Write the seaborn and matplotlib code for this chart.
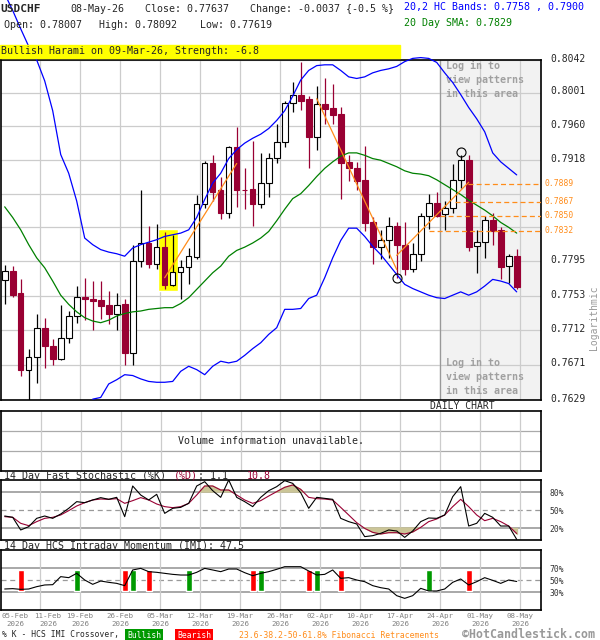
import numpy as np
import matplotlib
matplotlib.use("Agg")
import matplotlib.pyplot as plt
from matplotlib.ticker import NullLocator
from matplotlib.transforms import ScaledTranslation
import seaborn as sns

# ---- daily candles ----
opens = [0.7772, 0.7783, 0.7757, 0.7665, 0.7680, 0.7715, 0.7693, 0.7678, 0.7703, 0.7729,
         0.7752, 0.7750, 0.7748, 0.7742, 0.7732, 0.7743, 0.7685, 0.7795, 0.7817, 0.7791,
         0.7812, 0.7766, 0.7782, 0.7788, 0.7800, 0.7865, 0.7915, 0.7881, 0.7853, 0.7934,
         0.7882, 0.7883, 0.7865, 0.7890, 0.7921, 0.7940, 0.7989, 0.7999, 0.7993, 0.7947,
         0.7987, 0.7982, 0.7975, 0.7916, 0.7908, 0.7894, 0.7842, 0.7812, 0.7821, 0.7838,
         0.7815, 0.7786, 0.7804, 0.7850, 0.7866, 0.7852, 0.7859, 0.7894, 0.7918, 0.7813,
         0.7818, 0.7845, 0.7833, 0.7789, 0.78007]
highs = [0.7790, 0.7789, 0.7774, 0.7690, 0.7732, 0.7727, 0.7702, 0.7742, 0.7735, 0.7765,
         0.7775, 0.7771, 0.7771, 0.7759, 0.7757, 0.7750, 0.7815, 0.7881, 0.7838, 0.7840,
         0.7830, 0.7827, 0.7796, 0.7811, 0.7876, 0.7917, 0.7925, 0.7897, 0.7936, 0.7959,
         0.7908, 0.7942, 0.7927, 0.7927, 0.7962, 0.7991, 0.8014, 0.8040, 0.7997, 0.8010,
         0.8019, 0.8012, 0.7983, 0.7925, 0.7916, 0.7936, 0.7848, 0.7833, 0.7849, 0.7843,
         0.7843, 0.7817, 0.7853, 0.7877, 0.7879, 0.7868, 0.7913, 0.7925, 0.7925, 0.7833,
         0.7850, 0.7853, 0.7836, 0.7804, 0.78092]
lows = [0.7743, 0.7752, 0.7658, 0.7625, 0.7649, 0.7667, 0.7671, 0.7677, 0.7697, 0.7721,
        0.7724, 0.7712, 0.7726, 0.7720, 0.7712, 0.7671, 0.7671, 0.7788, 0.7787, 0.7785,
        0.7762, 0.7765, 0.7750, 0.7767, 0.7798, 0.7860, 0.7868, 0.7846, 0.7847, 0.7861,
        0.7858, 0.7838, 0.7859, 0.7873, 0.7914, 0.7934, 0.7978, 0.7980, 0.7908, 0.7931,
        0.7962, 0.7963, 0.7871, 0.7892, 0.7881, 0.7832, 0.7792, 0.7798, 0.7799, 0.7775,
        0.7778, 0.7782, 0.7795, 0.7834, 0.7848, 0.7833, 0.7853, 0.7884, 0.7807, 0.7781,
        0.7799, 0.7815, 0.7774, 0.7769, 0.77619]
closes = [0.7783, 0.7754, 0.7665, 0.7680, 0.7715, 0.7693, 0.7678, 0.7703, 0.7729, 0.7752,
          0.7750, 0.7747, 0.7741, 0.7732, 0.7742, 0.7685, 0.7795, 0.7817, 0.7791, 0.7812,
          0.7766, 0.7782, 0.7788, 0.7801, 0.7865, 0.7915, 0.7879, 0.7853, 0.7934, 0.7882,
          0.7881, 0.7865, 0.7890, 0.7921, 0.7940, 0.7989, 0.7999, 0.7991, 0.7946, 0.7987,
          0.7981, 0.7974, 0.7914, 0.7908, 0.7893, 0.7841, 0.7812, 0.7821, 0.7838, 0.7814,
          0.7786, 0.7804, 0.7850, 0.7866, 0.7850, 0.7859, 0.7894, 0.7918, 0.7812, 0.7818,
          0.7845, 0.7832, 0.7788, 0.7801, 0.77637]

# ---- 20,2 bands and 20 day SMA ----
upper_band = [0.8125, 0.8104, 0.8081, 0.8059, 0.8042, 0.8016, 0.7979, 0.7925, 0.7902, 0.7868,
              0.7823, 0.7815, 0.7809, 0.7806, 0.7804, 0.7801, 0.7811, 0.7815, 0.7818, 0.7821,
              0.7825, 0.7827, 0.7829, 0.7833, 0.7848, 0.7870, 0.7890, 0.7902, 0.7920, 0.7931,
              0.7939, 0.7945, 0.7950, 0.7957, 0.7967, 0.7979, 0.7997, 0.8017, 0.8029, 0.8035,
              0.8036, 0.8036, 0.8029, 0.8021, 0.8019, 0.8021, 0.8026, 0.8029, 0.8031, 0.8034,
              0.8040, 0.8044, 0.8045, 0.8044, 0.8039, 0.8026, 0.8014, 0.7999, 0.7983, 0.7969,
              0.7953, 0.7927, 0.7916, 0.7908, 0.7900]
lower_band = [np.nan] * 11 + [
              0.7630, 0.7632, 0.7648, 0.7653, 0.7659, 0.7658, 0.7654, 0.7651, 0.7650, 0.7650,
              0.7651, 0.7663, 0.7669, 0.7665, 0.7659, 0.7669, 0.7675, 0.7673, 0.7675, 0.7682,
              0.7690, 0.7697, 0.7707, 0.7715, 0.7737, 0.7737, 0.7738, 0.7750, 0.7754, 0.7775,
              0.7799, 0.7820, 0.7835, 0.7835, 0.7825, 0.7813, 0.7803, 0.7791, 0.7779, 0.7767,
              0.7762, 0.7758, 0.7754, 0.7751, 0.7750, 0.7754, 0.7758, 0.7754, 0.7758, 0.7765,
              0.7773, 0.7771, 0.7768, 0.7758]
sma20 = [0.7861, 0.7848, 0.7833, 0.7815, 0.7799, 0.7787, 0.7771, 0.7754, 0.7743, 0.7734,
         0.7727, 0.7723, 0.7721, 0.7724, 0.7729, 0.7732, 0.7734, 0.7735, 0.7737, 0.7738,
         0.7739, 0.7739, 0.7744, 0.7751, 0.7761, 0.7771, 0.7781, 0.7789, 0.7801, 0.7808,
         0.7812, 0.7817, 0.7823, 0.7831, 0.7844, 0.7858, 0.7871, 0.7877, 0.7887, 0.7898,
         0.7908, 0.7916, 0.7923, 0.7927, 0.7927, 0.7924, 0.7920, 0.7918, 0.7914, 0.7910,
         0.7905, 0.7902, 0.7901, 0.7899, 0.7894, 0.7888, 0.7882, 0.7876, 0.7869, 0.7863,
         0.7857, 0.7850, 0.7842, 0.7836, 0.7829]

# ---- oscillators ----
stoch_k = [40, 37.8, 16.7, 22.2, 36.1, 40, 36.1, 43.3, 52.8, 63.9,
           62.2, 66.7, 70.6, 67.8, 71.1, 38.9, 90, 75, 66.7, 76.1,
           44.4, 52.8, 54.4, 61.1, 90, 97.2, 82.2, 71.1, 100, 71.1,
           63.9, 55.6, 71.1, 82.2, 88.9, 98.9, 94.4, 78.9, 52.8, 71.1,
           69.4, 67.8, 36.1, 30.6, 26.7, 5.6, 7.2, 11.1, 16.7, 15,
           4.4, 15, 30.6, 36.7, 36.1, 41.7, 72.2, 88.9, 23.3, 27.8,
           44.4, 37.8, 23.3, 23.3, 1.1]
stoch_d = [38.9, 37.8, 27.8, 23.9, 30.6, 36.1, 37.8, 41.7, 48.9, 56.7,
           62.2, 66.7, 68.3, 67.8, 68.9, 61.1, 65.6, 70.6, 66.7, 60,
           55.6, 53.9, 55.6, 61.1, 75, 90, 90, 83.3, 83.3, 75,
           66.7, 61.1, 65.6, 73.3, 80.6, 87.8, 91.7, 84.4, 71.1, 68.9,
           68.3, 66.7, 54.4, 41.7, 28.9, 19.4, 12.8, 10, 12.2, 12.2,
           10, 13.3, 21.1, 30.6, 35, 41.7, 55.6, 67.8, 55.6, 41.7,
           32.2, 36.1, 30.6, 23.3, 10.8]
imi = [35, 35.6, 34.4, 35, 38.9, 41.7, 42.2, 55.6, 53.9, 61.1,
       50, 42.8, 48.3, 46.1, 44.4, 40.6, 66.7, 69.4, 63.9, 62.8,
       61.1, 59.4, 58.3, 58.3, 62.8, 69.4, 66.7, 63.9, 68.3, 68.3,
       62.2, 57.2, 61.1, 63.9, 67.8, 72.2, 72.2, 72.2, 65, 58.3,
       59.4, 66.7, 52.8, 53.9, 50, 47.2, 40.6, 37.2, 35, 23.9,
       19.4, 23.9, 36.1, 31.7, 31.7, 35, 46.1, 51.7, 41.7, 47.2,
       53.9, 49.4, 44.4, 50, 47.5]
bull_cross = [9, 16, 23, 32, 39, 53]
bear_cross = [2, 15, 18, 31, 38, 42, 58]

# ---- annotations ----
harami_days = [20, 21]
swing_days = [57, 49]
swing_prices = [0.7928, 0.7775]
zig_from_x = [20, 39, 49]
zig_from_y = [0.7775, 0.7994, 0.7802]
zig_to_x = [29, 49, 58]
zig_to_y = [0.7914, 0.7785, 0.7891]
fib_levels = [0.7889, 0.7867, 0.7850, 0.7832]
fib_start = [57.9, 56.3, 54.4, 53.0]

date_labels = ["05-Feb", "11-Feb", "19-Feb", "26-Feb", "05-Mar", "12-Mar", "19-Mar",
               "26-Mar", "02-Apr", "10-Apr", "17-Apr", "24-Apr", "01-May", "08-May"]
year_label = "2026"
price_ticks = [0.7629, 0.7671, 0.7712, 0.7753, 0.7795, 0.7836, 0.7877,
               0.7918, 0.7960, 0.8001, 0.8042]
price_tick_labels = ["0.7629", "0.7671", "0.7712", "0.7753", "0.7795", "", "",
                     "0.7918", "0.7960", "0.8001", "0.8042"]

RED = "#990033"
ORANGE = "#ff8c1a"
GRID = "#cccccc"
W, H = 600, 640
PX0, PXSTEP = 4.7, 8.0   # candle 0 centre and candle spacing in pixels


def px_to_idx(px):
    return (px - PX0) / PXSTEP


def rect(x0, y0, x1, y1):
    return [x0 / W, 1 - y1 / H, (x1 - x0) / W, (y1 - y0) / H]


sns.set_style("white")
plt.rcParams["font.family"] = ["DejaVu Sans Mono"]

days = np.arange(len(closes))
xlim = (px_to_idx(1), px_to_idx(541))
grid_x = [px_to_idx(40 * k) for k in range(len(date_labels))]

fig = plt.figure(figsize=(6, 6.4), dpi=100)


def style_panel(ax):
    ax.set_xlim(*xlim)
    ax.set_xticks(grid_x)
    ax.tick_params(axis="x", length=0, labelbottom=False)
    ax.grid(axis="x", color=GRID, lw=0.9, zorder=0)
    for s in ax.spines.values():
        s.set_color("black")
        s.set_linewidth(1.2)
    ax.set_xlabel("")
    ax.set_ylabel("")


# ---------------- price panel ----------------
ax = fig.add_axes(rect(1, 60, 541, 400))
ax.set_yscale("log")
ax.set_ylim(0.7629, 0.8042)
style_panel(ax)
ax.set_yticks(price_ticks)
ax.set_yticklabels(price_tick_labels)
ax.yaxis.set_minor_locator(NullLocator())
ax.yaxis.tick_right()
ax.tick_params(axis="y", length=0, pad=6.5, labelsize=7)
for lab in ax.yaxis.get_majorticklabels():
    lab.set_transform(lab.get_transform() + ScaledTranslation(0, 0.025, fig.dpi_scale_trans))
ax.grid(axis="y", color=GRID, lw=0.9, zorder=0)
ax.set_axisbelow(True)

# locked area
ax.axvspan(px_to_idx(440), xlim[1], color="#f2f2f2", zorder=0)
ax.axvline(px_to_idx(440), color="#999999", lw=0.9, zorder=0.6)
for ty in (0.996, 0.012):
    ax.text(px_to_idx(446), ty, "Log in to\nview patterns\nin this area",
            transform=ax.get_xaxis_transform(),
            va="top" if ty > 0.5 else "bottom", ha="left", fontsize=7.2,
            fontweight="bold", color="#a0a0a0", linespacing=1.5, zorder=1)

# harami highlight
hx0, hx1 = min(harami_days) - 0.8, max(harami_days) + 0.7
htop = max(highs[d] for d in harami_days) + 0.0004
hbot = min(lows[d] for d in harami_days) - 0.0003
ax.bar((hx0 + hx1) / 2, htop - hbot, bottom=hbot, width=hx1 - hx0,
       color="#ffff00", zorder=1)

# candles
up = np.array(closes) >= np.array(opens)
edge = np.where(up, "black", RED)
ax.vlines(days, lows, highs, colors=edge, lw=0.9, zorder=2)
body_lo = np.minimum(opens, closes)
body_h = np.maximum(np.abs(np.array(closes) - np.array(opens)), 0.00003)
ax.bar(days, body_h, bottom=body_lo, width=0.7,
       color=np.where(up, "white", RED), edgecolor=edge, linewidth=0.8, zorder=2.5)

# bands and moving average
sns.lineplot(x=days, y=upper_band, ax=ax, color="#0000ff", lw=0.9,
             zorder=3, clip_on=False)
sns.lineplot(x=days, y=lower_band, ax=ax, color="#0000ff", lw=0.9, zorder=3)
sns.lineplot(x=days, y=sma20, ax=ax, color="#008000", lw=0.9, zorder=3)

# zigzag and fibonacci retracements
for x0, y0, x1, y1 in zip(zig_from_x, zig_from_y, zig_to_x, zig_to_y):
    ax.plot([x0, x1], [y0, y1], color=ORANGE, lw=0.9, zorder=3.2)
for lvl, xs in zip(fib_levels, fib_start):
    ax.plot([xs, xlim[1]], [lvl, lvl], color=ORANGE, lw=0.9, ls=(0, (4, 2.5)),
            zorder=3.2)
    ax.text(1.007, lvl, f"{lvl:.4f}", transform=ax.get_yaxis_transform(),
            ha="left", va="center", fontsize=5.8, color=ORANGE)
ax.plot(swing_days, swing_prices, "o", mfc="none", mec="black", ms=6.5,
        mew=0.8, zorder=4, ls="none")
ax.set_xlim(*xlim)
ax.set_ylim(0.7629, 0.8042)
ax.set_xlabel("")
ax.set_ylabel("")

fig.text(594 / W, 1 - 318 / H, "Logarithmic", rotation=90, ha="center",
         va="center", fontsize=7, color="#999999")
fig.text(430 / W, 1 - 406 / H, "DAILY CHART", ha="left", va="center", fontsize=7)

# ---------------- header ----------------
fig.text(0, 1 - 9 / H, "USDCHF", fontsize=8, fontweight="bold", va="center")
fig.text(70 / W, 1 - 9 / H, "08-May-26", fontsize=7.2, va="center")
fig.text(145 / W, 1 - 9 / H, "Close: 0.77637", fontsize=7.2, va="center")
fig.text(250 / W, 1 - 9 / H, "Change: -0.0037 {-0.5 %}", fontsize=7.2, va="center")
fig.text(4 / W, 1 - 25 / H, "Open: 0.78007", fontsize=7.2, va="center")
fig.text(99 / W, 1 - 25 / H, "High: 0.78092", fontsize=7.2, va="center")
fig.text(200 / W, 1 - 25 / H, "Low: 0.77619", fontsize=7.2, va="center")
fig.text(404 / W, 1 - 7 / H, "20,2 HC Bands: 0.7758 , 0.7900", fontsize=7.2,
         va="center", color="#0000ff")
fig.text(404 / W, 1 - 23 / H, "20 Day SMA: 0.7829", fontsize=7.2,
         va="center", color="#008000")
fig.patches.append(plt.Rectangle((0, 1 - 58 / H), 400 / W, 13 / H,
                                 transform=fig.transFigure, color="#ffff00",
                                 zorder=0))
fig.text(1 / W, 1 - 51 / H, "Bullish Harami on 09-Mar-26, Strength: -6.8",
         fontsize=7.2, va="center")

# ---------------- volume panel ----------------
axv = fig.add_axes(rect(1, 411, 541, 471))
axv.set_ylim(0, 3)
style_panel(axv)
axv.set_yticks([])
for lvl in (1, 2):
    axv.axhline(lvl, color="#aaaaaa", lw=0.9, zorder=0.5)
axv.text(0.5, 0.5, "Volume information unavailable.", transform=axv.transAxes,
         ha="center", va="center", fontsize=7.2)

# ---------------- stochastic panel ----------------
axs = fig.add_axes(rect(1, 480, 541, 540))
axs.set_ylim(0, 100)
style_panel(axs)
axs.yaxis.tick_right()
axs.set_yticks([20, 50, 80])
axs.set_yticklabels(["20%", "50%", "80%"])
axs.tick_params(axis="y", length=0, pad=6, labelsize=5.8, labelcolor="#333333")
axs.axhline(80, color="#999999", lw=1.2, zorder=0.5)
axs.axhline(20, color="#999999", lw=1.2, zorder=0.5)
axs.axhline(50, color="#999999", lw=0.9, ls=(0, (4, 3)), zorder=0.5)
d = np.array(stoch_d)
axs.fill_between(days, 80, d, where=d > 80, interpolate=True, color="#cbc597", zorder=1)
axs.fill_between(days, 20, d, where=d < 20, interpolate=True, color="#cbc597", zorder=1)
sns.lineplot(x=days, y=stoch_d, ax=axs, color=RED, lw=0.8, zorder=2)
sns.lineplot(x=days, y=stoch_k, ax=axs, color="black", lw=0.8, zorder=3)
axs.set_xlim(*xlim)
axs.set_ylim(0, 100)
axs.set_xlabel("")
axs.set_ylabel("")
fig.text(4 / W, 1 - 476 / H, "14 Day Fast Stochastic (%K)", fontsize=7.2, va="center")
fig.text(174 / W, 1 - 476 / H, "(%D)", fontsize=7.2, va="center", color=RED)
fig.text(198 / W, 1 - 476 / H, ": 1.1", fontsize=7.2, va="center")
fig.text(247 / W, 1 - 476 / H, "10.8", fontsize=7.2, va="center", color=RED)

# ---------------- IMI panel ----------------
axi = fig.add_axes(rect(1, 550, 541, 610))
axi.set_ylim(0, 100)
style_panel(axi)
axi.yaxis.tick_right()
axi.set_yticks([30, 50, 70])
axi.set_yticklabels(["30%", "50%", "70%"])
axi.tick_params(axis="y", length=0, pad=6, labelsize=5.8, labelcolor="#333333")
axi.axhline(70, color="#999999", lw=1.2, zorder=0.5)
axi.axhline(30, color="#999999", lw=1.2, zorder=0.5)
axi.axhline(50, color="#999999", lw=0.9, ls=(0, (4, 3)), zorder=0.5)
axi.bar(bull_cross, 35, bottom=32, width=0.75, color="#009900", zorder=1)
axi.bar(bear_cross, 35, bottom=32, width=0.75, color="#ff0000", zorder=1)
sns.lineplot(x=days, y=imi, ax=axi, color="black", lw=0.8, zorder=3)
axi.set_xlim(*xlim)
axi.set_ylim(0, 100)
axi.set_xlabel("")
axi.set_ylabel("")
fig.text(4 / W, 1 - 546 / H, "14 Day HCS Intraday Momentum (IMI): 47.5",
         fontsize=7.2, va="center")

# date labels under the last panel
for k, lab in enumerate(date_labels):
    gx = 40 * k
    if k == 0:
        gx = 15
    elif k == 1:
        gx = 48
    fig.text(gx / W, 1 - 616 / H, lab, fontsize=5.4, color="#808080",
             ha="center", va="center")
    fig.text(gx / W, 1 - 624.5 / H, year_label, fontsize=5.4, color="#808080",
             ha="center", va="center")

# ---------------- footer legend ----------------
fy = 1 - 635 / H
fig.text(2 / W, fy, "% K - HCS IMI Crossover,", fontsize=5.8, va="center")
fig.text(127 / W, fy, "Bullish", fontsize=5.8, va="center", color="white",
         bbox=dict(boxstyle="square,pad=0.2", fc="#009900", ec="none"))
fig.text(177 / W, fy, "Bearish", fontsize=5.8, va="center", color="white",
         bbox=dict(boxstyle="square,pad=0.2", fc="#ff0000", ec="none"))
fig.text(239 / W, fy, "23.6-38.2-50-61.8% Fibonacci Retracements", fontsize=5.9,
         va="center", color=ORANGE)
fig.text(462 / W, fy, "\u00a9HotCandlestick.com", fontsize=8.4, va="center",
         fontweight="bold", color="#999999")

fig.savefig("out.png", dpi=100)
